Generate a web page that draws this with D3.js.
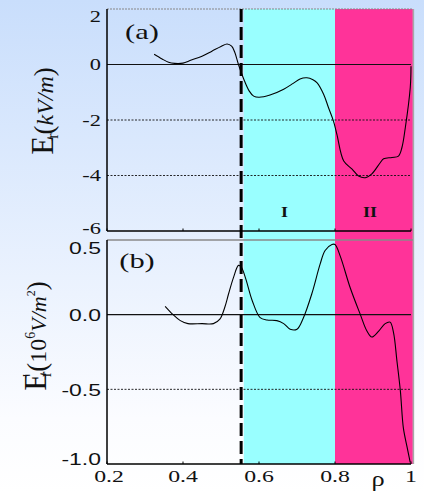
<!DOCTYPE html>
<html>
<head>
<meta charset="utf-8">
<script src="https://cdn.jsdelivr.net/npm/d3@7/dist/d3.min.js"></script>
<style>
  html, body { margin: 0; padding: 0; }
  svg { display: block; }
</style>
</head>
<body>
<script>
// Radial profiles: ρ positions and field values for both panels
const rhoA = [0.324, 0.345, 0.362, 0.378, 0.40, 0.42, 0.45, 0.476, 0.50, 0.516, 0.528, 0.536, 0.546, 0.56, 0.574, 0.586, 0.60, 0.629, 0.665, 0.69, 0.708, 0.726, 0.742, 0.753, 0.77, 0.783, 0.796, 0.805, 0.823, 0.845, 0.862, 0.88, 0.897, 0.919, 0.928, 0.95, 0.967, 0.976, 0.985, 0.998, 1.0];
const erA  = [0.37, 0.2, 0.08, 0.04, 0.05, 0.15, 0.3, 0.48, 0.65, 0.74, 0.66, 0.45, 0.0, -0.53, -0.95, -1.14, -1.18, -1.1, -0.89, -0.68, -0.52, -0.48, -0.55, -0.66, -1.07, -1.56, -2.04, -2.52, -3.48, -3.77, -4.02, -4.08, -3.94, -3.54, -3.4, -3.35, -3.3, -3.0, -2.28, -0.84, -0.06];

const rhoB = [0.353, 0.374, 0.393, 0.413, 0.45, 0.48, 0.497, 0.51, 0.52, 0.533, 0.546, 0.553, 0.564, 0.582, 0.603, 0.621, 0.647, 0.665, 0.682, 0.70, 0.717, 0.739, 0.761, 0.774, 0.792, 0.80, 0.814, 0.84, 0.866, 0.884, 0.897, 0.915, 0.932, 0.945, 0.954, 0.963, 0.972, 0.98, 0.99, 0.998];
const dErB = [0.056, 0.0, -0.04, -0.06, -0.06, -0.06, -0.03, 0.05, 0.14, 0.25, 0.33, 0.32, 0.25, 0.095, -0.02, -0.036, -0.04, -0.06, -0.097, -0.097, -0.02, 0.14, 0.34, 0.43, 0.47, 0.47, 0.39, 0.18, 0.005, -0.11, -0.15, -0.11, -0.06, -0.05, -0.12, -0.31, -0.51, -0.76, -0.89, -0.99];

// Shaded radial zones and the separatrix marker
const zoneNames  = ["I", "II"];
const zoneStart  = [0.56, 0.8];
const zoneEnd    = [0.8, 1.005];
const zoneColors = ["#99ffff", "#ff3399"];
const separatrixRho = 0.553;

// Tick values and labels
const xTicks  = [0.2, 0.4, 0.6, 0.8, 1.0];
const xLabels = ["0.2", "0.4", "0.6", "0.8", "1"];
const yTicksA  = [2, 0, -2, -4, -6];
const yLabelsA = ["2", "0", "-2", "-4", "-6"];
const yTicksB  = [0.5, 0.0, -0.5, -1.0];
const yLabelsB = ["0.5", "0.0", "-0.5", "-1.0"];

const W = 424, H = 493;
const SERIF = "'Liberation Serif', 'Times New Roman', 'DejaVu Serif', serif";
const SANS = "'Liberation Sans', Arial, sans-serif";
const svg = d3.select("body").append("svg").attr("width", W).attr("height", H);

// page background gradient
const defs = svg.append("defs");
const grad = defs.append("linearGradient").attr("id", "bg").attr("x1", 0).attr("y1", 0).attr("x2", 0).attr("y2", 1);
grad.append("stop").attr("offset", "0%").attr("stop-color", "#c9defc");
grad.append("stop").attr("offset", "85%").attr("stop-color", "#fbfcff");
grad.append("stop").attr("offset", "100%").attr("stop-color", "#ffffff");
svg.append("rect").attr("width", W).attr("height", H).attr("fill", "url(#bg)");

const x  = d3.scaleLinear().domain([0.2, 1.0]).range([107, 411]);
const yA = d3.scaleLinear().domain([-6, 2]).range([231, 9]);
const yB = d3.scaleLinear().domain([-1, 0.5]).range([464, 240]);
const topY = yA(2), botY = yB(-1);
const SX = 1.4; // horizontal stretch applied to the lettering

// zones spanning both panels
svg.selectAll("rect.zone").data(zoneNames).join("rect")
  .attr("class", "zone")
  .attr("x", (d, i) => x(zoneStart[i]))
  .attr("width", (d, i) => x(zoneEnd[i]) - x(zoneStart[i]))
  .attr("y", topY).attr("height", botY - topY)
  .attr("fill", (d, i) => zoneColors[i]);

// right-hand frame edge
svg.append("line").attr("x1", x(1.005) + 0.5).attr("x2", x(1.005) + 0.5)
  .attr("y1", topY).attr("y2", botY).attr("stroke", "#a8a8a8").attr("stroke-width", 1.5);

// panel (a) grid
svg.append("line").attr("x1", x(0.2)).attr("x2", x(1.005)).attr("y1", yA(2)).attr("y2", yA(2))
  .attr("stroke", "#888").attr("stroke-width", 1.2).attr("stroke-dasharray", "2,1");
[-2, -4].forEach(v => {
  svg.append("line").attr("x1", x(0.2)).attr("x2", x(1.0)).attr("y1", yA(v)).attr("y2", yA(v))
    .attr("stroke", "#111").attr("stroke-width", 0.9).attr("stroke-dasharray", "2,1.5");
});
svg.append("line").attr("x1", x(0.2)).attr("x2", x(1.0)).attr("y1", yA(0)).attr("y2", yA(0))
  .attr("stroke", "#111").attr("stroke-width", 1.1);

// panel (b) grid
svg.append("line").attr("x1", x(0.2)).attr("x2", x(1.005)).attr("y1", yB(0.5)).attr("y2", yB(0.5))
  .attr("stroke", "#8a8a8a").attr("stroke-width", 1.5);
svg.append("line").attr("x1", x(0.2)).attr("x2", x(1.0)).attr("y1", yB(-0.5)).attr("y2", yB(-0.5))
  .attr("stroke", "#111").attr("stroke-width", 0.9).attr("stroke-dasharray", "2,1.5");
svg.append("line").attr("x1", x(0.2)).attr("x2", x(1.0)).attr("y1", yB(0)).attr("y2", yB(0))
  .attr("stroke", "#111").attr("stroke-width", 1.1);

// axes frames
function frame(yScale) {
  const [y0, y1] = yScale.range();
  svg.append("line").attr("x1", x(0.2)).attr("x2", x(0.2)).attr("y1", y0).attr("y2", y1)
    .attr("stroke", "#000").attr("stroke-width", 1.5);
  svg.append("line").attr("x1", x(0.2)).attr("x2", x(1.0)).attr("y1", y0).attr("y2", y0)
    .attr("stroke", "#000").attr("stroke-width", 1.5);
  svg.selectAll(null).data(xTicks).join("line")
    .attr("x1", d => x(d)).attr("x2", d => x(d)).attr("y1", y0).attr("y2", y0 - 2.5)
    .attr("stroke", "#000").attr("stroke-width", 1);
}
frame(yA);
frame(yB);

// separatrix
svg.append("line").attr("x1", x(separatrixRho)).attr("x2", x(separatrixRho))
  .attr("y1", topY).attr("y2", botY)
  .attr("stroke", "#000").attr("stroke-width", 3).attr("stroke-dasharray", "13,5");

// profiles
const line = (ys) => d3.line().x(d => x(d[0])).y(d => ys(d[1])).curve(d3.curveCatmullRom.alpha(0.5));
svg.append("path").datum(d3.zip(rhoA, erA)).attr("d", line(yA))
  .attr("fill", "none").attr("stroke", "#000").attr("stroke-width", 1.1);
svg.append("path").datum(d3.zip(rhoB, dErB)).attr("d", line(yB))
  .attr("fill", "none").attr("stroke", "#000").attr("stroke-width", 1.1);

// text helper with horizontal stretch
function label(px, py, str, opts = {}) {
  const t = svg.append("text")
    .attr("transform", `translate(${px},${py}) scale(${opts.sx || SX},1)`)
    .attr("font-family", opts.family || SERIF)
    .attr("font-size", opts.size || 15)
    .attr("text-anchor", opts.anchor || "middle")
    .attr("fill", "#111")
    .text(str);
  if (opts.weight) t.attr("font-weight", opts.weight);
  return t;
}

// y tick labels, held inside the frame at the extremes
yTicksA.forEach((v, i) => {
  const py = Math.min(Math.max(yA(v), topY + 7), yA(-6) - 3);
  label(101, py + 5.5, yLabelsA[i], { anchor: "end", size: 16 });
});
yTicksB.forEach((v, i) => {
  const py = Math.min(Math.max(yB(v), 247), botY - 6);
  label(101, py + 6.5, yLabelsB[i], { anchor: "end", size: 17, family: SANS, sx: 1.35 });
});

// x tick labels
xTicks.forEach((v, i) => {
  label(x(v) + (i === 0 ? 2 : 0), 482, xLabels[i], { size: 17 });
});
label(378, 486, "ρ", { size: 22, sx: 1.2 });

// panel tags and zone names
label(142, 39, "(a)", { size: 21, sx: 1.45 });
label(137, 268, "(b)", { size: 21, sx: 1.45 });
zoneNames.forEach((n, i) => {
  label(x((zoneStart[i] + Math.min(zoneEnd[i], 1)) / 2) + (i === 0 ? -5 : -3), 217, n, { size: 15, weight: "bold", sx: 1.2 });
});

// y-axis titles
const tA = svg.append("text")
  .attr("transform", "translate(53,111) rotate(-90)")
  .attr("text-anchor", "middle")
  .attr("font-family", SERIF)
  .attr("fill", "#111");
tA.append("tspan").attr("font-size", 31).text("E");
tA.append("tspan").attr("font-size", 16).attr("dy", 5).attr("dx", -3).text("r");
tA.append("tspan").attr("font-size", 27).attr("dy", -5).attr("dx", -1).text("(");
tA.append("tspan").attr("font-size", 24).attr("font-style", "italic").text("kV/m");
tA.append("tspan").attr("font-size", 27).text(")");

const tB = svg.append("text")
  .attr("transform", "translate(46,336) rotate(-90)")
  .attr("text-anchor", "middle")
  .attr("font-family", SERIF)
  .attr("fill", "#111");
tB.append("tspan").attr("font-size", 31).text("E");
tB.append("tspan").attr("font-size", 15).attr("dy", -13).attr("dx", -5).text("'");
tB.append("tspan").attr("font-size", 16).attr("dy", 18).attr("dx", -3).text("r");
tB.append("tspan").attr("font-size", 27).attr("dy", -5).text("(");
tB.append("tspan").attr("font-size", 24).text("10");
tB.append("tspan").attr("font-size", 14).attr("dy", -11).text("6");
tB.append("tspan").attr("font-size", 22).attr("dy", 11).attr("font-style", "italic").text("V/m");
tB.append("tspan").attr("font-size", 12).attr("dy", -11).text("2");
tB.append("tspan").attr("font-size", 27).attr("dy", 11).text(")");
</script>
</body>
</html>
